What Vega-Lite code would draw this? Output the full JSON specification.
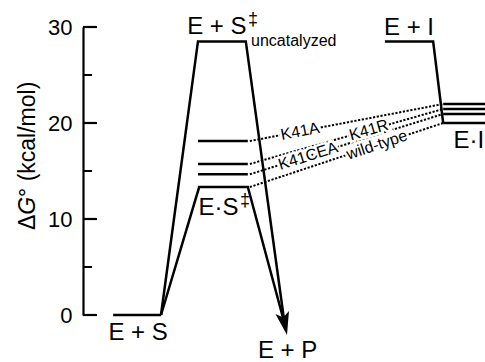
{
  "$schema": "https://vega.github.io/schema/vega-lite/v6.json",
  "autosize": {"type": "none"},
  "width": 402,
  "height": 288,
  "padding": {"left": 83, "top": 27, "right": 0, "bottom": 47},
  "background": "white",
  "config": {"view": {"stroke": null}, "font": "Liberation Sans"},
  "datasets": {
    "solid": [
      {"seg": "ES", "i": 0, "x": 7.5, "y": 0},
      {"seg": "ES", "i": 1, "x": 19.4, "y": 0},
      {"seg": "uncat", "i": 0, "x": 19.4, "y": 0},
      {"seg": "uncat", "i": 1, "x": 28.6, "y": 28.5},
      {"seg": "uncat", "i": 2, "x": 40.5, "y": 28.5},
      {"seg": "uncat", "i": 3, "x": 50.15, "y": -0.91},
      {"seg": "wt", "i": 0, "x": 19.4, "y": 0},
      {"seg": "wt", "i": 1, "x": 28.9, "y": 13.33},
      {"seg": "wt", "i": 2, "x": 41.0, "y": 13.33},
      {"seg": "wt", "i": 3, "x": 50.15, "y": -0.91},
      {"seg": "K41CEA", "i": 0, "x": 28.6, "y": 14.66},
      {"seg": "K41CEA", "i": 1, "x": 41.0, "y": 14.66},
      {"seg": "K41R", "i": 0, "x": 28.6, "y": 15.73},
      {"seg": "K41R", "i": 1, "x": 41.0, "y": 15.73},
      {"seg": "K41A", "i": 0, "x": 28.6, "y": 18.12},
      {"seg": "K41A", "i": 1, "x": 41.0, "y": 18.12},
      {"seg": "EI", "i": 0, "x": 75.1, "y": 28.5},
      {"seg": "EI", "i": 1, "x": 87.1, "y": 28.5},
      {"seg": "EI", "i": 2, "x": 89.6, "y": 20.0},
      {"seg": "EI_wt", "i": 0, "x": 89.6, "y": 20.0},
      {"seg": "EI_wt", "i": 1, "x": 100, "y": 20.0},
      {"seg": "EI_CEA", "i": 0, "x": 89.6, "y": 20.94},
      {"seg": "EI_CEA", "i": 1, "x": 100, "y": 20.94},
      {"seg": "EI_R", "i": 0, "x": 89.6, "y": 21.46},
      {"seg": "EI_R", "i": 1, "x": 100, "y": 21.46},
      {"seg": "EI_A", "i": 0, "x": 89.6, "y": 21.98},
      {"seg": "EI_A", "i": 1, "x": 100, "y": 21.98}
    ],
    "dotted": [
      {"seg": "K41A", "i": 0, "x": 41.5, "y": 18.12},
      {"seg": "K41A", "i": 1, "x": 89.6, "y": 21.98},
      {"seg": "K41R", "i": 0, "x": 41.5, "y": 15.73},
      {"seg": "K41R", "i": 1, "x": 89.6, "y": 21.46},
      {"seg": "K41CEA", "i": 0, "x": 41.5, "y": 14.66},
      {"seg": "K41CEA", "i": 1, "x": 89.6, "y": 20.94},
      {"seg": "wt", "i": 0, "x": 41.5, "y": 13.33},
      {"seg": "wt", "i": 1, "x": 89.6, "y": 20.0}
    ],
    "big": [
      {"t": "E + S", "x": 13.7, "y": -2.6},
      {"t": "E + P", "x": 50.9, "y": -4.45},
      {"t": "E + S", "x": 33.3, "y": 29.27},
      {"t": "E·S", "x": 33.7, "y": 10.42},
      {"t": "E + I", "x": 81.1, "y": 29.2},
      {"t": "E·I", "x": 96.0, "y": 17.4}
    ],
    "dagger": [
      {"t": "‡", "x": 41.05, "y": 30.2},
      {"t": "‡", "x": 39.05, "y": 11.35}
    ],
    "titleParts": [
      {"t": "Δ", "x": -11.9, "y": 8.85},
      {"t": "° (kcal/mol)", "x": -11.9, "y": 12.3}
    ],
    "titleItalic": [
      {"t": "G", "x": -11.9, "y": 10.45}
    ]
  },
  "layer": [
    {
      "data": {"name": "solid"},
      "mark": {"type": "line", "color": "black", "strokeWidth": 2.5, "strokeJoin": "miter"},
      "encoding": {
        "x": {"field": "x", "type": "quantitative", "scale": {"domain": [0, 100], "nice": false, "zero": false}, "axis": null},
        "y": {"field": "y", "type": "quantitative", "scale": {"domain": [0, 30], "nice": false, "zero": false},
          "axis": {"orient": "left", "values": [0, 10, 20, 30], "ticks": false, "tickSize": 0,
            "domainColor": "black", "domainWidth": 2.2, "grid": false,
            "labelFont": "Liberation Sans", "labelFontSize": 22, "labelColor": "black", "labelPadding": 11,
            "title": null}},
        "detail": {"field": "seg"},
        "order": {"field": "i"}
      }
    },
    {
      "data": {"values": [{"v": 0}, {"v": 10}, {"v": 20}, {"v": 30}]},
      "mark": {"type": "rule", "color": "black", "strokeWidth": 2.2},
      "encoding": {
        "x": {"datum": 0, "type": "quantitative"},
        "x2": {"datum": 3.48},
        "y": {"field": "v", "type": "quantitative"}
      }
    },
    {
      "data": {"values": [{"v": 5}, {"v": 15}, {"v": 25}]},
      "mark": {"type": "rule", "color": "black", "strokeWidth": 2},
      "encoding": {
        "x": {"datum": 0, "type": "quantitative"},
        "x2": {"datum": 2.24},
        "y": {"field": "v", "type": "quantitative"}
      }
    },
    {
      "data": {"name": "titleParts"},
      "mark": {"type": "text", "font": "Liberation Sans", "fontSize": 23, "angle": -90, "align": "left", "baseline": "alphabetic", "color": "black"},
      "encoding": {"x": {"field": "x", "type": "quantitative"}, "y": {"field": "y", "type": "quantitative"}, "text": {"field": "t"}}
    },
    {
      "data": {"name": "titleItalic"},
      "mark": {"type": "text", "font": "Liberation Sans", "fontSize": 23, "fontStyle": "italic", "angle": -90, "align": "left", "baseline": "alphabetic", "color": "black"},
      "encoding": {"x": {"field": "x", "type": "quantitative"}, "y": {"field": "y", "type": "quantitative"}, "text": {"field": "t"}}
    },
    {
      "data": {"name": "dotted"},
      "mark": {"type": "line", "color": "black", "strokeWidth": 2, "strokeDash": [2.2, 1.6]},
      "encoding": {
        "x": {"field": "x", "type": "quantitative"},
        "y": {"field": "y", "type": "quantitative"},
        "detail": {"field": "seg"},
        "order": {"field": "i"}
      }
    },
    {
      "data": {"values": [{"x": 50.15, "y": -0.91}]},
      "mark": {"type": "point", "shape": "M0,1 L-0.6,-1 L0,-0.55 L0.6,-1 Z", "size": 529, "angle": -12, "filled": true, "color": "black", "opacity": 1},
      "encoding": {
        "x": {"field": "x", "type": "quantitative"},
        "y": {"field": "y", "type": "quantitative"}
      }
    },
    {
      "data": {"values": [{"t": "K41A", "x": 54.0, "y": 19.12}]},
      "mark": {"type": "text", "font": "Liberation Sans", "fontSize": 16, "angle": -10.9, "baseline": "middle", "stroke": "white", "strokeWidth": 5, "fill": "white"},
      "encoding": {"x": {"field": "x", "type": "quantitative"}, "y": {"field": "y", "type": "quantitative"}, "text": {"field": "t"}}
    },
    {
      "data": {"values": [{"t": "K41A", "x": 54.0, "y": 19.12}]},
      "mark": {"type": "text", "font": "Liberation Sans", "fontSize": 16, "angle": -10.9, "baseline": "middle", "color": "black"},
      "encoding": {"x": {"field": "x", "type": "quantitative"}, "y": {"field": "y", "type": "quantitative"}, "text": {"field": "t"}}
    },
    {
      "data": {"values": [{"t": "K41R", "x": 71.1, "y": 19.26}]},
      "mark": {"type": "text", "font": "Liberation Sans", "fontSize": 16, "angle": -15.9, "baseline": "middle", "stroke": "white", "strokeWidth": 5, "fill": "white"},
      "encoding": {"x": {"field": "x", "type": "quantitative"}, "y": {"field": "y", "type": "quantitative"}, "text": {"field": "t"}}
    },
    {
      "data": {"values": [{"t": "K41R", "x": 71.1, "y": 19.26}]},
      "mark": {"type": "text", "font": "Liberation Sans", "fontSize": 16, "angle": -15.9, "baseline": "middle", "color": "black"},
      "encoding": {"x": {"field": "x", "type": "quantitative"}, "y": {"field": "y", "type": "quantitative"}, "text": {"field": "t"}}
    },
    {
      "data": {"values": [{"t": "K41CEA", "x": 56.0, "y": 16.55}]},
      "mark": {"type": "text", "font": "Liberation Sans", "fontSize": 16, "angle": -17.3, "baseline": "middle", "stroke": "white", "strokeWidth": 5, "fill": "white"},
      "encoding": {"x": {"field": "x", "type": "quantitative"}, "y": {"field": "y", "type": "quantitative"}, "text": {"field": "t"}}
    },
    {
      "data": {"values": [{"t": "K41CEA", "x": 56.0, "y": 16.55}]},
      "mark": {"type": "text", "font": "Liberation Sans", "fontSize": 16, "angle": -17.3, "baseline": "middle", "color": "black"},
      "encoding": {"x": {"field": "x", "type": "quantitative"}, "y": {"field": "y", "type": "quantitative"}, "text": {"field": "t"}}
    },
    {
      "data": {"values": [{"t": "wild-type", "x": 73.1, "y": 17.71}]},
      "mark": {"type": "text", "font": "Liberation Sans", "fontSize": 16, "angle": -18.3, "baseline": "middle", "stroke": "white", "strokeWidth": 5, "fill": "white"},
      "encoding": {"x": {"field": "x", "type": "quantitative"}, "y": {"field": "y", "type": "quantitative"}, "text": {"field": "t"}}
    },
    {
      "data": {"values": [{"t": "wild-type", "x": 73.1, "y": 17.71}]},
      "mark": {"type": "text", "font": "Liberation Sans", "fontSize": 16, "angle": -18.3, "baseline": "middle", "color": "black"},
      "encoding": {"x": {"field": "x", "type": "quantitative"}, "y": {"field": "y", "type": "quantitative"}, "text": {"field": "t"}}
    },
    {
      "data": {"name": "big"},
      "mark": {"type": "text", "font": "Liberation Sans", "fontSize": 24, "align": "center", "baseline": "alphabetic", "color": "black"},
      "encoding": {"x": {"field": "x", "type": "quantitative"}, "y": {"field": "y", "type": "quantitative"}, "text": {"field": "t"}}
    },
    {
      "data": {"name": "dagger"},
      "mark": {"type": "text", "font": "Liberation Sans", "fontSize": 18, "align": "left", "baseline": "alphabetic", "color": "black"},
      "encoding": {"x": {"field": "x", "type": "quantitative"}, "y": {"field": "y", "type": "quantitative"}, "text": {"field": "t"}}
    },
    {
      "data": {"values": [{"t": "uncatalyzed", "x": 41.8, "y": 28.0}]},
      "mark": {"type": "text", "font": "Liberation Sans", "fontSize": 16, "align": "left", "baseline": "alphabetic", "color": "black"},
      "encoding": {"x": {"field": "x", "type": "quantitative"}, "y": {"field": "y", "type": "quantitative"}, "text": {"field": "t"}}
    }
  ]
}
